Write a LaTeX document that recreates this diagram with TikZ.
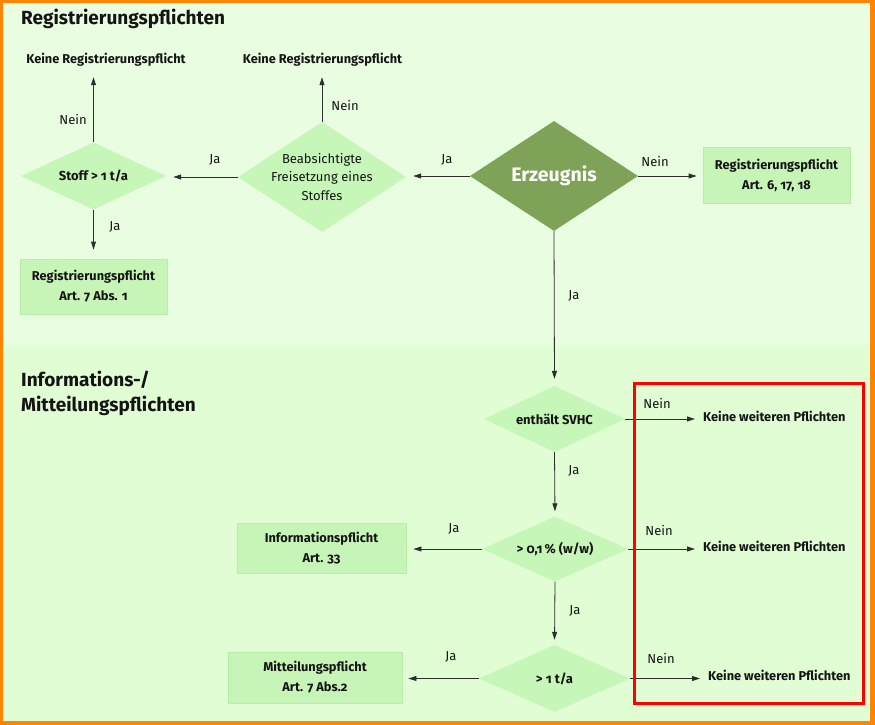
\documentclass[tikz,border=0pt]{standalone}
\usepackage{fontspec}
\setmainfont{Fira Sans}[Numbers=OldStyle]
\usetikzlibrary{shapes.geometric,arrows.meta}
\definecolor{orng}{RGB}{255,132,0}
\definecolor{bgup}{RGB}{233,253,224}
\definecolor{bglow}{RGB}{224,253,212}
\definecolor{diafill}{RGB}{198,246,184}
\definecolor{boxfill}{RGB}{199,245,184}
\definecolor{boxline}{RGB}{184,236,168}
\definecolor{erzfill}{RGB}{126,162,87}
\definecolor{arrcol}{RGB}{45,45,45}
\definecolor{txt}{RGB}{20,20,20}
\tikzset{
  dia/.style={diamond, draw=none, fill=diafill, inner sep=0pt},
  dtext/.style={font=\bfseries\fontsize{13}{15}\selectfont, text=txt, inner sep=0pt},
  dtextr/.style={font=\fontsize{13}{18.5}\selectfont, text=txt, align=center, inner sep=0pt},
  box/.style={rectangle, fill=boxfill, draw=boxline, line width=0.8pt, inner sep=0pt, align=center, text=txt, font=\bfseries\fontsize{12.8}{20}\selectfont},
  res/.style={inner sep=0pt, text=txt, font=\bfseries\fontsize{12.8}{15}\selectfont, text height=9.5pt, text depth=3pt},
  lab/.style={font=\fontsize{13}{15}\selectfont, text=txt, inner sep=0pt},
  arr/.style={draw=arrcol, line width=0.8pt, -{Triangle[length=8pt,width=5pt]}},
  ttl/.style={font=\bfseries\fontsize{19}{25}\selectfont, text=txt, inner sep=0pt, align=left},
}
\begin{document}
\begin{tikzpicture}[x=1pt,y=-1pt]
\useasboundingbox (0,0) rectangle (875,725);
% background
\fill[orng] (0,0) rectangle (875,725);
\fill[bgup] (3,3) rectangle (870,345);
\fill[bglow] (3,345) rectangle (870,721);
% titles
\node[ttl, anchor=base west] (t1) at (21,25) {Registrierungspflichten};
\node[ttl, anchor=north west] (t2) at (21,371) {Informations-/\\Mitteilungspflichten};
% diamonds
\node[dia, minimum width=145, minimum height=67, label={[dtext]center:Stoff > 1 t/a}] (stoff) at (93.5,176) {};
\node[dia, minimum width=168, minimum height=110, label={[dtextr]center:{Beabsichtigte\\Freisetzung eines\\Stoffes}}] (beab) at (322,177) {};
\node[diamond, fill=erzfill, inner sep=0pt, minimum width=168, minimum height=110, label={[font=\bfseries\fontsize{19.5}{22}\selectfont, text=white, inner sep=0pt]center:Erzeugnis}] (erz) at (554,176) {};
\node[dia, minimum width=141, minimum height=66, label={[dtext]center:enthält SVHC}] (svhc) at (554.5,419) {};
\node[dia, minimum width=146, minimum height=65, label={[dtext]center:{> 0,1\,\% (w/w)}}] (p01) at (555,549) {};
\node[dia, minimum width=151, minimum height=67, label={[dtext]center:{> 1 t/a}}] (t1a) at (554.5,678.5) {};
% boxes
\node[box, minimum width=147, minimum height=55] (r1) at (93.5,286.5) {Registrierungspflicht\\Art. 7 Abs. 1};
\node[box, minimum width=147, minimum height=56] (r2) at (776.5,175) {Registrierungspflicht\\Art. 6, 17, 18};
\node[box, minimum width=169, minimum height=50] (info) at (321.5,548) {Informationspflicht\\Art. 33};
\node[box, minimum width=174, minimum height=51] (mitt) at (315,677.5) {Mitteilungspflicht\\Art. 7 Abs.2};
% result texts
\node[res] (kr1) at (106,60) {Keine Registrierungspflicht};
\node[res] (kr2) at (322.5,60) {Keine Registrierungspflicht};
\node[res, anchor=west] (kw1) at (703,418) {Keine weiteren Pflichten};
\node[res, anchor=west] (kw2) at (703,548) {Keine weiteren Pflichten};
\node[res, anchor=west] (kw3) at (708,677) {Keine weiteren Pflichten};
% connectors
\draw[arr, shorten >=7pt] (erz.west) -- (erz.west -| beab.east);
\draw[arr, shorten >=7pt] (beab.west) -- (beab.west -| stoff.east);
\draw[arr, shorten >=10.75pt] (stoff.north) -- (stoff.north |- kr1.south);
\draw[arr, shorten >=10.75pt] (beab.north) -- (beab.north |- kr2.south);
\draw[arr, shorten >=9pt] (stoff.south) -- (stoff.south |- r1.north);
\draw[arr, shorten >=6pt] (erz.east) -- (erz.east -| r2.west);
\draw[arr, shorten >=7pt] (erz.south) -- (svhc.north);
\draw[arr, shorten >=8pt] (svhc.east) -- (svhc.east -| kw1.west);
\draw[arr, shorten >=5pt] (svhc.south) -- (p01.north);
\draw[arr, shorten >=8pt] (p01.east) -- (p01.east -| kw2.west);
\draw[arr, shorten >=7pt] (p01.west) -- (p01.west -| info.east);
\draw[arr, shorten >=5pt] (p01.south) -- (t1a.north);
\draw[arr, shorten >=8pt] (t1a.east) -- (t1a.east -| kw3.west);
\draw[arr, shorten >=6pt] (t1a.west) -- (t1a.west -| mitt.east);
% labels
\node[lab] (l1) at (73,120) {Nein};
\node[lab] (l2) at (115,227) {Ja};
\node[lab] (l3) at (215,160) {Ja};
\node[lab] (l4) at (345,106) {Nein};
\node[lab] (l5) at (447,160) {Ja};
\node[lab] (l6) at (655,162) {Nein};
\node[lab] (l7) at (574,296) {Ja};
\node[lab] (l8) at (657,404) {Nein};
\node[lab] (l9) at (574,471) {Ja};
\node[lab] (l10) at (659,531) {Nein};
\node[lab] (l11) at (454,529) {Ja};
\node[lab] (l12) at (575,611) {Ja};
\node[lab] (l13) at (661,658) {Nein};
\node[lab] (l14) at (451,657) {Ja};
% highlight
\draw[red, line width=3pt] (634,383) rectangle (863,703);
\end{tikzpicture}
\end{document}
